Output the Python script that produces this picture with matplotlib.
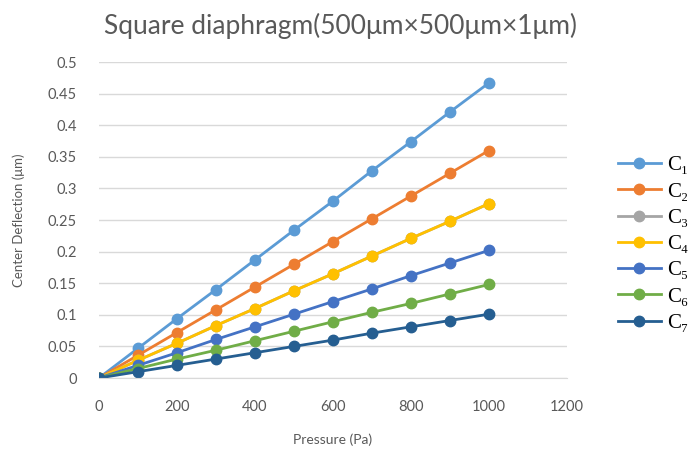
import numpy as np
import matplotlib
matplotlib.use('Agg')
from matplotlib import pyplot as plt

plt.rcParams['font.family'] = ['Lato', 'DejaVu Sans']

pressure = [0, 100, 200, 300, 400, 500, 600, 700, 800, 900, 1000]
c1 = [0, 0.047, 0.094, 0.140, 0.187, 0.234, 0.280, 0.328, 0.374, 0.421, 0.467]
c2 = [0, 0.036, 0.072, 0.108, 0.144, 0.180, 0.216, 0.252, 0.288, 0.324, 0.360]
c3 = [0, 0.028, 0.055, 0.083, 0.110, 0.138, 0.165, 0.193, 0.221, 0.248, 0.276]
c4 = [0, 0.028, 0.055, 0.083, 0.110, 0.138, 0.165, 0.193, 0.221, 0.248, 0.276]
c5 = [0, 0.020, 0.040, 0.061, 0.081, 0.101, 0.121, 0.141, 0.162, 0.182, 0.202]
c6 = [0, 0.015, 0.030, 0.044, 0.059, 0.074, 0.089, 0.104, 0.118, 0.133, 0.148]
c7 = [0, 0.010, 0.020, 0.030, 0.040, 0.050, 0.060, 0.071, 0.081, 0.091, 0.101]

series = [c1, c2, c3, c4, c5, c6, c7]
labels = ['C\u2081', 'C\u2082', 'C\u2083', 'C\u2084', 'C\u2085', 'C\u2086', 'C\u2087']
colors = ['#5B9BD5', '#ED7D31', '#A5A5A5', '#FFC000', '#4472C4', '#70AD47', '#255E91']

fig = plt.figure(figsize=(6.9, 4.5), dpi=100)
ax = fig.add_axes([0.1435, 0.16, 0.678, 0.702])

for vals, lab, col in zip(series, labels, colors):
    ax.plot(pressure, vals, color=col, lw=2, marker='o', markersize=7.5, label=lab)

ax.set_xlim(0, 1200)
ax.set_ylim(0, 0.5)
ax.set_xticks(np.arange(0, 1201, 200))
ax.set_yticks(np.arange(0, 0.501, 0.05))
ax.set_yticklabels(['0', '0.05', '0.1', '0.15', '0.2', '0.25', '0.3', '0.35', '0.4', '0.45', '0.5'])
ax.grid(axis='y', color='#D9D9D9', lw=1)
ax.set_axisbelow(True)
for s in ['top', 'right', 'left']:
    ax.spines[s].set_visible(False)
ax.spines['bottom'].set_color('#D9D9D9')
ax.tick_params(length=0, labelcolor='#595959', labelsize=10.5)
ax.tick_params(axis='x', pad=16)
ax.tick_params(axis='y', pad=16)

ax.set_xlabel('Pressure (Pa)', color='#595959', fontsize=10, labelpad=14)
ax.set_ylabel('Center Deflection (\u03bcm)', color='#595959', fontsize=9.5, labelpad=16)
fig.suptitle('Square diaphragm(500\u03bcm\u00d7500\u03bcm\u00d71\u03bcm)', x=0.493, y=0.972,
             color='#595959', fontsize=19)

fig.legend(loc='center left', bbox_to_anchor=(0.88, 0.457), frameon=False,
           labelspacing=0.32, handlelength=2.1, handletextpad=0.3, borderpad=0,
           prop={'family': ['Liberation Serif', 'DejaVu Serif'], 'size': 15})

fig.savefig('out.png', dpi=100)
